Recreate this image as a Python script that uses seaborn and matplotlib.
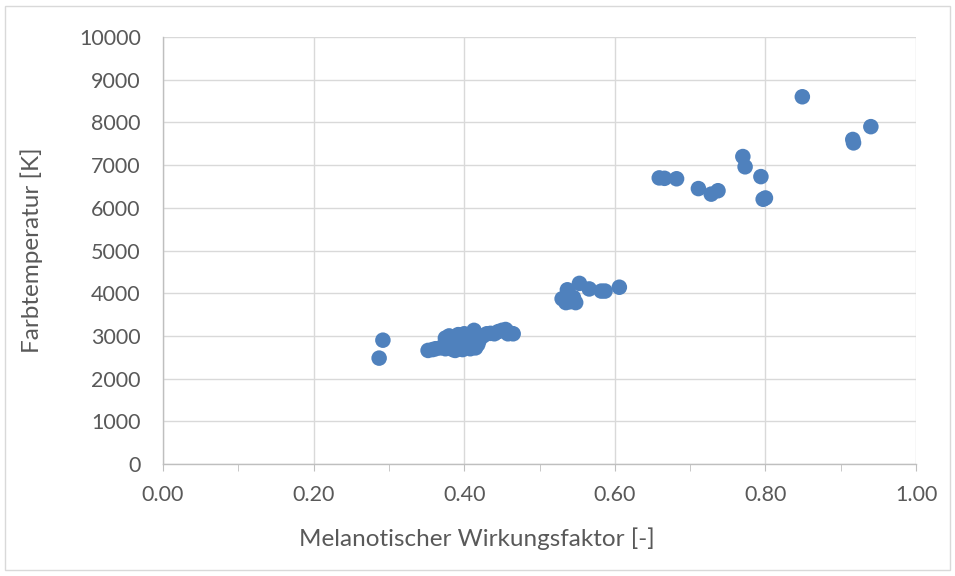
import numpy as np
import pandas as pd
import matplotlib
matplotlib.use("Agg")
import matplotlib.pyplot as plt
from matplotlib.patches import Rectangle
from matplotlib.ticker import MultipleLocator, FormatStrFormatter
import seaborn as sns

# melanopic action factor [-] and colour temperature [K]
faktor = [0.287, 0.292,
          0.352, 0.358, 0.362, 0.368, 0.372, 0.375, 0.375, 0.378, 0.380, 0.382,
          0.385, 0.388, 0.388, 0.390, 0.392, 0.395, 0.397, 0.398, 0.400, 0.402,
          0.405, 0.408, 0.410, 0.413, 0.415, 0.418, 0.420, 0.425, 0.430, 0.435,
          0.440, 0.445, 0.450, 0.455, 0.458, 0.462, 0.465,
          0.530, 0.535, 0.537, 0.538, 0.540, 0.545, 0.548, 0.553, 0.566, 0.582,
          0.587, 0.606,
          0.659, 0.666, 0.682, 0.711, 0.728, 0.737, 0.770, 0.773, 0.794, 0.797,
          0.800, 0.849, 0.916, 0.917, 0.940]
farbtemp = [2480, 2900,
            2660, 2680, 2700, 2720, 2750, 2700, 2950, 2900, 3000, 2800,
            2680, 2750, 2660, 2850, 3030, 2700, 2950, 2680, 3050, 2780,
            2850, 2700, 2950, 3130, 2720, 2800, 2900, 3000, 3050, 3060,
            3050, 3100, 3130, 3150, 3050, 3060, 3050,
            3870, 3780, 4080, 3950, 3800, 3900, 3780, 4230, 4100, 4050,
            4050, 4140,
            6700, 6690, 6680, 6450, 6320, 6400, 7200, 6960, 6730, 6200,
            6230, 8600, 7600, 7520, 7900]

df = pd.DataFrame({"Melanotischer Wirkungsfaktor [-]": faktor,
                   "Farbtemperatur [K]": farbtemp})

sns.set_style("white")
plt.rcParams['font.family'] = ['Lato', 'DejaVu Sans']

fig = plt.figure(figsize=(9.55, 5.76), dpi=100)
ax = fig.add_axes([0.1707, 0.1944, 0.7885, 0.7414])

sns.scatterplot(data=df, x="Melanotischer Wirkungsfaktor [-]", y="Farbtemperatur [K]",
                ax=ax, color="#4F81BD", s=125, edgecolor="none", linewidth=0, zorder=3)

ax.set_xlim(0, 1.0)
ax.set_ylim(0, 10000)
ax.xaxis.set_major_locator(MultipleLocator(0.2))
ax.xaxis.set_minor_locator(MultipleLocator(0.1))
ax.xaxis.set_major_formatter(FormatStrFormatter('%.2f'))
ax.yaxis.set_major_locator(MultipleLocator(1000))

ax.grid(True, which='major', color='#D9D9D9', linewidth=1.0)
ax.set_axisbelow(True)
for s in ['top', 'right']:
    ax.spines[s].set_visible(False)
for s in ['left', 'bottom']:
    ax.spines[s].set_color('#BFBFBF')
    ax.spines[s].set_linewidth(1.0)

ax.tick_params(axis='x', which='both', direction='out', length=5, color='#BFBFBF',
               labelsize=15.5, labelcolor='#595959', pad=10, bottom=True)
ax.tick_params(axis='y', which='both', length=0, labelsize=15.5, labelcolor='#595959', pad=16)

ax.set_xlabel("Melanotischer Wirkungsfaktor [-]", fontsize=17.5, color='#595959', labelpad=16)
ax.set_ylabel("Farbtemperatur [K]", fontsize=17.5, color='#595959', labelpad=26)
# Excel centres the x title on the whole chart, not on the plot area
ax.xaxis.label.set_x(0.417)

# light outer chart border
fig.patches.append(Rectangle((5 / 955, 6 / 576), 945 / 955, 564 / 576, transform=fig.transFigure,
                             fill=False, edgecolor='#D9D9D9', linewidth=1.0))

fig.savefig("out.png", dpi=100)
